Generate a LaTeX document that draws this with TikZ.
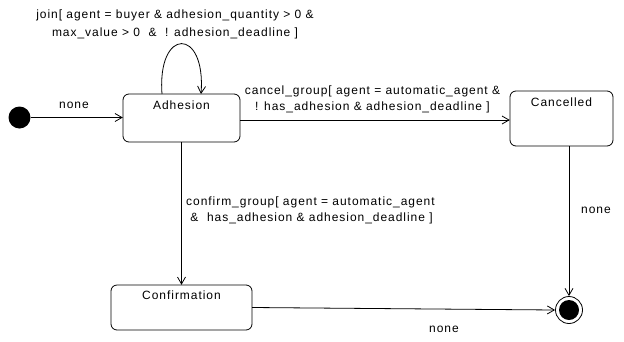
\documentclass[tikz,border=0pt]{standalone}
\usepackage{fontspec}
\setmainfont[LetterSpace=8]{Liberation Sans}
\usetikzlibrary{arrows.meta}
\begin{document}
\begin{tikzpicture}[x=1pt,y=-1pt,
  every node/.style={font=\fontsize{12}{16}\selectfont, inner sep=0pt},
  state/.style={draw, rounded corners=6pt, line width=0.8pt},
  statename/.style={anchor=base},
  trans/.style={draw, line width=0.8pt, -{Straight Barb[length=7pt,width=8pt]}},
  lbl/.style={align=center}]
  \useasboundingbox (0,0) rectangle (624,341);

  % initial and final pseudo-states
  \fill (19.5,117.5) circle (11);
  \node[circle, minimum size=22pt] (initn) at (19.5,117.5) {};
  \node[circle, draw, line width=0.8pt, minimum size=27pt] (final) at (569,310) {};
  \fill (569,310) circle (10);

  % states
  \draw[state] (123,94) rectangle (240,142);
  \node[minimum width=117pt, minimum height=48pt] (adh) at (181.5,118) {};
  \node[statename] at (181.5,109) {Adhesion};

  \draw[state] (510,91) rectangle (613,146);
  \node[minimum width=103pt, minimum height=55pt] (can) at (561.5,118.5) {};
  \node[statename] at (561.5,106) {Cancelled};

  \draw[state] (111,285) rectangle (252,330);
  \node[minimum width=141pt, minimum height=45pt] (conf) at (181.5,307.5) {};
  \node[statename] at (181.5,299) {Confirmation};

  % transitions
  \draw[trans] (initn.east) -- (adh.west |- initn.east);
  \node[anchor=base] at (74,108) {none};

  \coordinate (loopA) at (162,94);
  \coordinate (loopB) at (201,94);
  \draw[trans] (loopA) .. controls (157,27) and (206,27) .. (loopB);
  \node[lbl] at (175,24) {join[ agent = buyer \& adhesion\_quantity > 0 \&\\[2pt]
    max\_value > 0 \ \& \ ! adhesion\_deadline ]};

  \draw[trans] (adh.east |- 0,120) -- (can.west |- 0,120);
  \node[lbl] at (372.5,99) {cancel\_group[ agent = automatic\_agent \&\\
    ! has\_adhesion \& adhesion\_deadline ]};

  \draw[trans] (adh.south) -- (conf.north);
  \node[align=left, anchor=west] at (186,210) {confirm\_group[ agent = automatic\_agent\\
    \ \& \ has\_adhesion \& adhesion\_deadline ]};

  \draw[trans] (can.south -| final.north) -- (final.north);
  \node[anchor=base] at (596,213) {none};

  \draw[trans] (conf.east) -- (final.west);
  \node[anchor=base] at (444,332) {none};
\end{tikzpicture}
\end{document}
